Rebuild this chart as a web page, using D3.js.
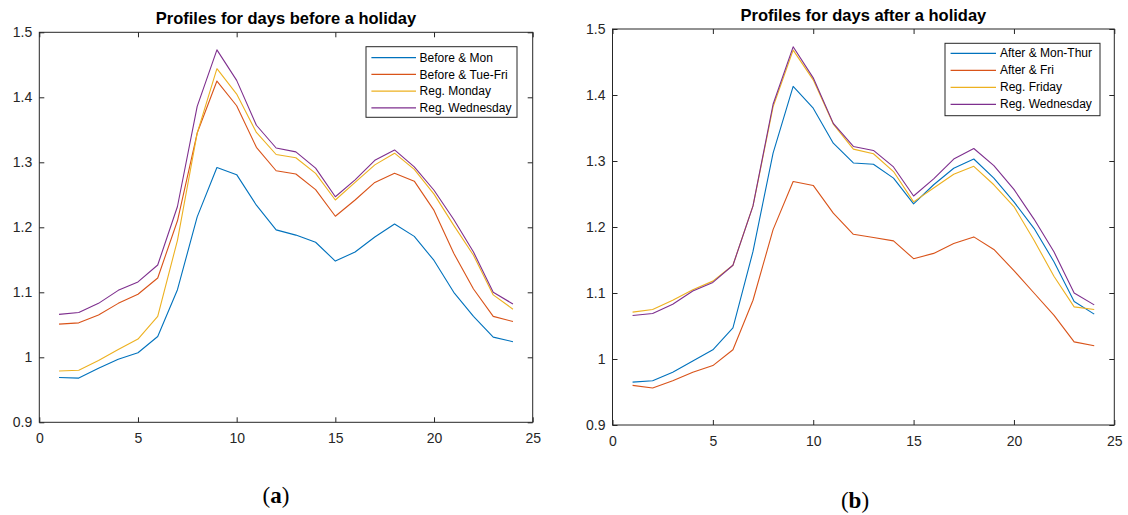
<!DOCTYPE html>
<html>
<head>
<meta charset="utf-8">
<script src="https://cdn.jsdelivr.net/npm/d3@7/dist/d3.min.js"></script>
<style>
  body { margin: 0; background: #fff; }
  svg { display: block; }
</style>
</head>
<body>
<svg id="chart" width="1128" height="515"></svg>
<script>
// Hour of day (x axis)
const hours = [1, 2, 3, 4, 5, 6, 7, 8, 9, 10, 11, 12, 13, 14, 15, 16, 17, 18, 19, 20, 21, 22, 23, 24];
const xTicks = [0, 5, 10, 15, 20, 25];
const yTicks = [0.9, 1.0, 1.1, 1.2, 1.3, 1.4, 1.5];
const yTickLabels = ["0.9", "1", "1.1", "1.2", "1.3", "1.4", "1.5"];

// Panel (a): days before a holiday
const beforeMon = [0.969, 0.968, 0.983, 0.997, 1.007, 1.032, 1.104, 1.216, 1.292, 1.281, 1.234, 1.196,
                   1.188, 1.177, 1.148, 1.162, 1.185, 1.205, 1.186, 1.149, 1.100, 1.063, 1.031, 1.024];
const beforeTueFri = [1.051, 1.053, 1.065, 1.083, 1.097, 1.122, 1.210, 1.345, 1.425, 1.387, 1.323, 1.287,
                      1.282, 1.258, 1.217, 1.242, 1.269, 1.283, 1.271, 1.226, 1.160, 1.105, 1.063, 1.055];
const regMonday = [0.979, 0.980, 0.995, 1.012, 1.028, 1.063, 1.180, 1.345, 1.444, 1.405, 1.346, 1.312,
                   1.307, 1.283, 1.242, 1.269, 1.296, 1.314, 1.289, 1.251, 1.203, 1.157, 1.096, 1.074];
const regWednesday = [1.066, 1.069, 1.083, 1.103, 1.116, 1.142, 1.232, 1.386, 1.473, 1.426, 1.357, 1.322,
                      1.316, 1.291, 1.247, 1.273, 1.303, 1.319, 1.293, 1.257, 1.212, 1.162, 1.100, 1.082];

// Panel (b): days after a holiday
const afterMonThur = [0.965, 0.967, 0.980, 0.997, 1.014, 1.047, 1.163, 1.312, 1.413, 1.380, 1.327, 1.297,
                      1.295, 1.274, 1.235, 1.264, 1.289, 1.303, 1.274, 1.238, 1.198, 1.147, 1.087, 1.068];
const afterFri = [0.960, 0.956, 0.967, 0.980, 0.990, 1.014, 1.089, 1.196, 1.269, 1.263, 1.221, 1.189,
                  1.184, 1.179, 1.152, 1.160, 1.175, 1.185, 1.166, 1.134, 1.100, 1.066, 1.026, 1.020];
const regFriday = [1.071, 1.075, 1.089, 1.105, 1.118, 1.142, 1.232, 1.382, 1.468, 1.423, 1.356, 1.318,
                   1.311, 1.284, 1.238, 1.259, 1.280, 1.292, 1.264, 1.231, 1.180, 1.125, 1.079, 1.075];

const palette = ["#0072BD", "#D95319", "#EDB120", "#7E2F8E"];
const axisColor = "#262626";
const sansFont = "'Liberation Sans', Arial, Helvetica, sans-serif";

const panels = [
  {
    title: "Profiles for days before a holiday",
    caption: "a",
    box: { left: 39.3, right: 532.7, top: 32.3, bottom: 422.3 },
    titleY: 24,
    captionX: 276, captionY: 503,
    legend: { x: 366, y: 46.7, w: 151, h: 70.6, row0: 11, rowStep: 16.7, lineX0: 5.4, lineX1: 50, textX: 53.6 },
    series: [
      { name: "Before & Mon", values: beforeMon },
      { name: "Before & Tue-Fri", values: beforeTueFri },
      { name: "Reg. Monday", values: regMonday },
      { name: "Reg. Wednesday", values: regWednesday }
    ]
  },
  {
    title: "Profiles for days after a holiday",
    caption: "b",
    box: { left: 612.5, right: 1114.3, top: 29, bottom: 425 },
    titleY: 21,
    captionX: 855, captionY: 508,
    legend: { x: 945, y: 43.3, w: 155, h: 72.4, row0: 10, rowStep: 17, lineX0: 5.6, lineX1: 51, textX: 55 },
    series: [
      { name: "After & Mon-Thur", values: afterMonThur },
      { name: "After & Fri", values: afterFri },
      { name: "Reg. Friday", values: regFriday },
      { name: "Reg. Wednesday", values: regWednesday }
    ]
  }
];

const svg = d3.select("#chart");

panels.forEach(panel => {
  const b = panel.box;
  const x = d3.scaleLinear().domain([0, 25]).range([b.left, b.right]);
  const y = d3.scaleLinear().domain([0.9, 1.5]).range([b.bottom, b.top]);
  const g = svg.append("g");

  // Series lines
  const line = d3.line().x((d, i) => x(hours[i])).y(d => y(d));
  panel.series.forEach((s, i) => {
    g.append("path")
      .datum(s.values)
      .attr("fill", "none")
      .attr("stroke", palette[i])
      .attr("stroke-width", 1.1)
      .attr("stroke-linejoin", "round")
      .attr("d", line);
  });

  // Axes with inward ticks on all four sides
  const styleAxis = sel => {
    sel.select(".domain").remove();
    sel.selectAll(".tick line").attr("stroke", axisColor).attr("stroke-width", 1);
    sel.selectAll(".tick text")
      .attr("fill", axisColor)
      .style("font-family", sansFont)
      .style("font-size", "14px");
  };

  g.append("g")
    .attr("transform", `translate(0,${b.bottom})`)
    .call(d3.axisBottom(x).tickValues(xTicks).tickFormat(d3.format("d"))
      .tickSizeInner(-5).tickSizeOuter(0).tickPadding(11))
    .call(styleAxis);

  g.append("g")
    .attr("transform", `translate(0,${b.top})`)
    .call(d3.axisTop(x).tickValues(xTicks).tickFormat("").tickSizeInner(-5).tickSizeOuter(0))
    .call(styleAxis);

  g.append("g")
    .attr("transform", `translate(${b.left},0)`)
    .call(d3.axisLeft(y).tickValues(yTicks).tickFormat((d, i) => yTickLabels[i])
      .tickSizeInner(-5).tickSizeOuter(0).tickPadding(7))
    .call(styleAxis);

  g.append("g")
    .attr("transform", `translate(${b.right},0)`)
    .call(d3.axisRight(y).tickValues(yTicks).tickFormat("").tickSizeInner(-5).tickSizeOuter(0))
    .call(styleAxis);

  // Axes box
  g.append("rect")
    .attr("x", b.left).attr("y", b.top)
    .attr("width", b.right - b.left).attr("height", b.bottom - b.top)
    .attr("fill", "none")
    .attr("stroke", axisColor)
    .attr("stroke-width", 1);

  // Title
  g.append("text")
    .attr("x", (b.left + b.right) / 2)
    .attr("y", panel.titleY)
    .attr("text-anchor", "middle")
    .style("font-family", sansFont)
    .style("font-size", "16.5px")
    .style("font-weight", "bold")
    .attr("fill", "#000")
    .text(panel.title);

  // Legend
  const L = panel.legend;
  const lg = g.append("g").attr("transform", `translate(${L.x},${L.y})`);
  lg.append("rect")
    .attr("width", L.w).attr("height", L.h)
    .attr("fill", "#fff")
    .attr("stroke", axisColor)
    .attr("stroke-width", 1);
  panel.series.forEach((s, i) => {
    const ry = L.row0 + i * L.rowStep;
    lg.append("line")
      .attr("x1", L.lineX0).attr("x2", L.lineX1)
      .attr("y1", ry).attr("y2", ry)
      .attr("stroke", palette[i])
      .attr("stroke-width", 1.2);
    lg.append("text")
      .attr("x", L.textX).attr("y", ry)
      .attr("dy", "0.35em")
      .style("font-family", sansFont)
      .style("font-size", "12px")
      .attr("fill", "#000")
      .text(s.name);
  });

  // Sub-figure caption
  const cap = svg.append("text")
    .attr("x", panel.captionX)
    .attr("y", panel.captionY)
    .attr("text-anchor", "middle")
    .style("font-family", "'Liberation Serif', 'Times New Roman', serif")
    .style("font-size", "23px")
    .attr("fill", "#000");
  cap.append("tspan").text("(");
  cap.append("tspan").style("font-weight", "bold").text(panel.caption);
  cap.append("tspan").text(")");
});
</script>
</body>
</html>
